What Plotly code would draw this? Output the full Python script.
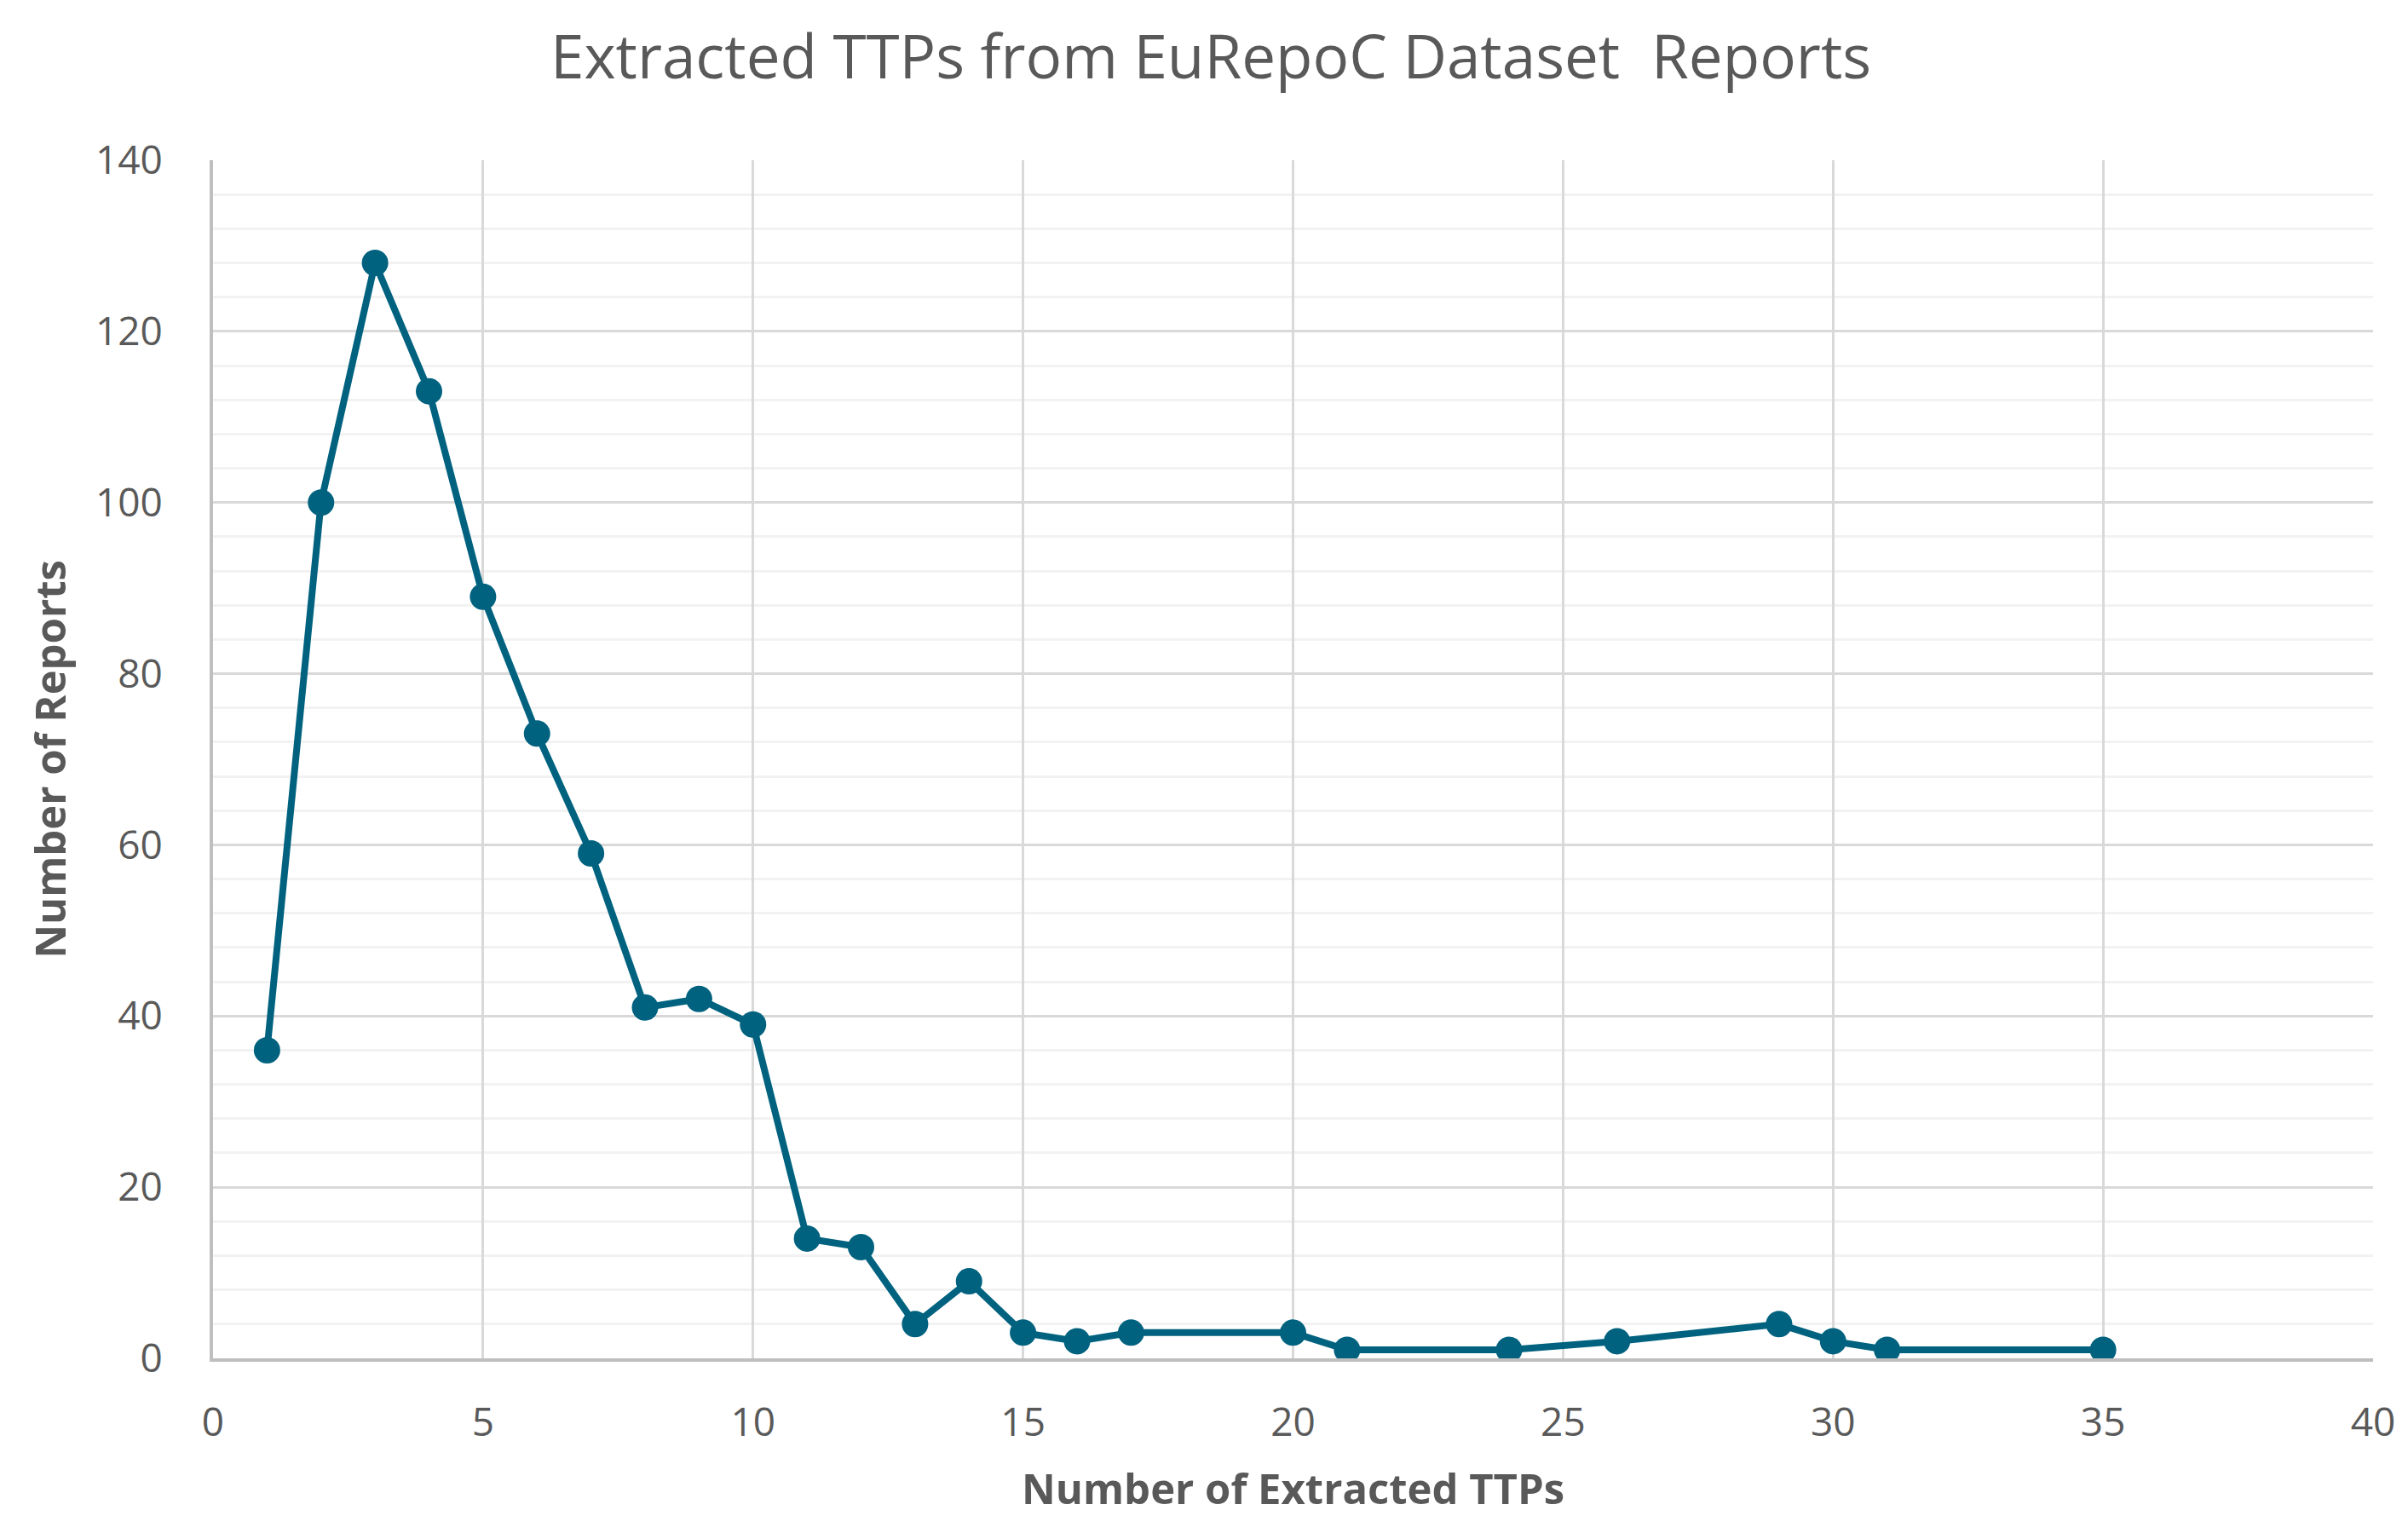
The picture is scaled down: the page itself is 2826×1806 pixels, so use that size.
import plotly.graph_objects as go

# Data
num_ttps = [1, 2, 3, 4, 5, 6, 7, 8, 9, 10, 11, 12, 13, 14, 15, 16, 17, 20, 21, 24, 26, 29, 30, 31, 35]
num_reports = [36, 100, 128, 113, 89, 73, 59, 41, 42, 39, 14, 13, 4, 9, 3, 2, 3, 3, 1, 1, 2, 4, 2, 1, 1]

title_text = "Extracted TTPs from EuRepoC Dataset  Reports"
x_title = "Number of Extracted TTPs"
y_title = "Number of Reports"

LINE = "#00627F"
TEXT = "#595959"
FONT = "Open Sans"

fig = go.Figure()
fig.add_trace(go.Scatter(
    x=num_ttps, y=num_reports, mode="lines+markers",
    line=dict(color=LINE, width=8),
    marker=dict(color=LINE, size=31, symbol="circle"),
    showlegend=False,
))

fig.update_layout(
    width=2826, height=1806,
    margin=dict(l=242, r=49, t=180, b=220),
    paper_bgcolor="white", plot_bgcolor="white",
    font=dict(family=FONT, color=TEXT),
    title=dict(text=title_text, x=0.5, xanchor="center", y=0.967, yanchor="middle",
               font=dict(family=FONT, size=71, color=TEXT)),
    xaxis=dict(
        range=[0, 40], dtick=5, tick0=0,
        showgrid=True, gridcolor="#D9D9D9", gridwidth=3,
        showline=True, linecolor="#BFBFBF", linewidth=4, mirror=False,
        zeroline=False, ticks="", ticklabelstandoff=32,
        tickfont=dict(family=FONT, size=46, color=TEXT),
        title=dict(text="<b>" + x_title + "</b>", standoff=34,
                   font=dict(family=FONT, size=49, color=TEXT)),
    ),
    yaxis=dict(
        range=[0, 140], dtick=20, tick0=0,
        showgrid=True, gridcolor="#D9D9D9", gridwidth=3,
        minor=dict(dtick=4, showgrid=True, gridcolor="#F2F2F2", gridwidth=3),
        showline=True, linecolor="#BFBFBF", linewidth=4,
        zeroline=False, ticks="", ticklabelstandoff=46,
        tickfont=dict(family=FONT, size=46, color=TEXT),
        title=dict(text="<b>" + y_title + "</b>", standoff=20,
                   font=dict(family=FONT, size=49, color=TEXT)),
    ),
)

fig.write_html("out.html")
